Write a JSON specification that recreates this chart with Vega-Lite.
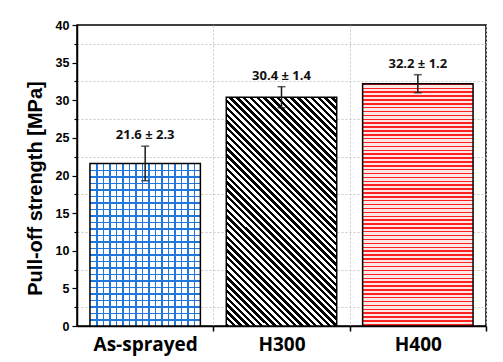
{
"$schema": "https://vega.github.io/schema/vega-lite/v6.json",
"width": 409, "height": 301,
"autosize": "none",
"padding": {"left": 77, "top": 25, "right": 17, "bottom": 36},
"background": "white",
"config": {"view": {"stroke": "#000", "strokeWidth": 1.5}},
"data": {"values": [
{"sample": "As-sprayed", "mean": 21.6, "sd": 2.3, "lo": 19.3, "hi": 23.9, "label": "21.6 ± 2.3"},
{"sample": "H300", "mean": 30.4, "sd": 1.4, "lo": 29.0, "hi": 31.8, "label": "30.4 ± 1.4"},
{"sample": "H400", "mean": 32.2, "sd": 1.2, "lo": 31.0, "hi": 33.4, "label": "32.2 ± 1.2"}
]},
"encoding": {
"x": {"field": "sample", "type": "nominal", "title": null,
 "scale": {"domain": ["As-sprayed", "H300", "H400"], "paddingInner": 0.19, "paddingOuter": 0.095},
 "axis": {"labelAngle": 0, "domainColor": "#000", "domainWidth": 1.5, "tickColor": "#000", "tickWidth": 1.5, "tickSize": 5,
  "tickOffset": 68.17, "labelOffset": -68.17, "labelFont": "Open Sans", "labelFontWeight": "bold", "labelFontSize": 19,
  "labelColor": "#000", "labelPadding": 4, "grid": true, "gridColor": "#c8c8c8", "gridDash": [2, 2], "gridWidth": 1}},
"y": {"field": "mean", "type": "quantitative", "title": "Pull-off strength [MPa]",
 "scale": {"domain": [0, 40], "nice": false},
 "axis": {"values": [0, 2.5, 5, 7.5, 10, 12.5, 15, 17.5, 20, 22.5, 25, 27.5, 30, 32.5, 35, 37.5, 40],
  "labelExpr": "datum.value % 5 === 0 ? datum.label : ''", "labelOverlap": false, "labelFlush": false,
  "domainColor": "#000", "domainWidth": 1.5, "tickColor": "#000", "tickWidth": 1.2,
  "tickSize": {"condition": {"test": "datum.value % 5 === 0", "value": 5}, "value": 3},
  "labelFont": "Liberation Sans", "labelFontWeight": "bold", "labelFontSize": 12.5, "labelColor": "#000", "labelPadding": 3,
  "grid": true, "gridColor": "#c8c8c8", "gridDash": [2, 2], "gridWidth": 1,
  "gridOpacity": {"condition": {"test": "datum.value % 5 === 0", "value": 0}, "value": 1},
  "titleFont": "Liberation Sans", "titleFontWeight": "bold", "titleFontSize": 20, "titleColor": "#000",
  "titleX": -36, "titleY": 163, "titleBaseline": "alphabetic"}}
},
"layer": [
{"transform": [{"filter": "datum.sample === 'As-sprayed'"}],
 "mark": {"type": "bar", "strokeWidth": 0, "fill": {"gradient": "linear", "x1": 0, "y1": 0, "x2": 1, "y2": 0, "stops": [
{"offset":0,"color":"#fff"},
{"offset":0.0588,"color":"#fff"},{"offset":0.0588,"color":"#27d"},{"offset":0.0698,"color":"#27d"},{"offset":0.0698,"color":"#fff"},
{"offset":0.1176,"color":"#fff"},{"offset":0.1176,"color":"#27d"},{"offset":0.1286,"color":"#27d"},{"offset":0.1286,"color":"#fff"},
{"offset":0.1765,"color":"#fff"},{"offset":0.1765,"color":"#27d"},{"offset":0.1875,"color":"#27d"},{"offset":0.1875,"color":"#fff"},
{"offset":0.2353,"color":"#fff"},{"offset":0.2353,"color":"#27d"},{"offset":0.2463,"color":"#27d"},{"offset":0.2463,"color":"#fff"},
{"offset":0.2941,"color":"#fff"},{"offset":0.2941,"color":"#27d"},{"offset":0.3051,"color":"#27d"},{"offset":0.3051,"color":"#fff"},
{"offset":0.3529,"color":"#fff"},{"offset":0.3529,"color":"#27d"},{"offset":0.3639,"color":"#27d"},{"offset":0.3639,"color":"#fff"},
{"offset":0.4118,"color":"#fff"},{"offset":0.4118,"color":"#27d"},{"offset":0.4228,"color":"#27d"},{"offset":0.4228,"color":"#fff"},
{"offset":0.4706,"color":"#fff"},{"offset":0.4706,"color":"#27d"},{"offset":0.4816,"color":"#27d"},{"offset":0.4816,"color":"#fff"},
{"offset":0.5294,"color":"#fff"},{"offset":0.5294,"color":"#27d"},{"offset":0.5404,"color":"#27d"},{"offset":0.5404,"color":"#fff"},
{"offset":0.5882,"color":"#fff"},{"offset":0.5882,"color":"#27d"},{"offset":0.5992,"color":"#27d"},{"offset":0.5992,"color":"#fff"},
{"offset":0.6471,"color":"#fff"},{"offset":0.6471,"color":"#27d"},{"offset":0.6581,"color":"#27d"},{"offset":0.6581,"color":"#fff"},
{"offset":0.7059,"color":"#fff"},{"offset":0.7059,"color":"#27d"},{"offset":0.7169,"color":"#27d"},{"offset":0.7169,"color":"#fff"},
{"offset":0.7647,"color":"#fff"},{"offset":0.7647,"color":"#27d"},{"offset":0.7757,"color":"#27d"},{"offset":0.7757,"color":"#fff"},
{"offset":0.8235,"color":"#fff"},{"offset":0.8235,"color":"#27d"},{"offset":0.8345,"color":"#27d"},{"offset":0.8345,"color":"#fff"},
{"offset":0.8824,"color":"#fff"},{"offset":0.8824,"color":"#27d"},{"offset":0.8934,"color":"#27d"},{"offset":0.8934,"color":"#fff"},
{"offset":0.9412,"color":"#fff"},{"offset":0.9412,"color":"#27d"},{"offset":0.9522,"color":"#27d"},{"offset":0.9522,"color":"#fff"},
{"offset":1,"color":"#fff"}]}},
 "encoding": {}},
{"transform": [{"filter": "datum.sample === 'As-sprayed'"}],
 "mark": {"type": "bar", "stroke": "#000", "strokeWidth": 1.5, "fill": {"gradient": "linear", "x1": 0, "y1": 0, "x2": 0, "y2": 1, "stops": [
{"offset":0,"color":"rgba(255,255,255,0)"},
{"offset":0.04,"color":"rgba(255,255,255,0)"},{"offset":0.04,"color":"#27d"},{"offset":0.0474,"color":"#27d"},{"offset":0.0474,"color":"rgba(255,255,255,0)"},
{"offset":0.08,"color":"rgba(255,255,255,0)"},{"offset":0.08,"color":"#27d"},{"offset":0.0874,"color":"#27d"},{"offset":0.0874,"color":"rgba(255,255,255,0)"},
{"offset":0.12,"color":"rgba(255,255,255,0)"},{"offset":0.12,"color":"#27d"},{"offset":0.1274,"color":"#27d"},{"offset":0.1274,"color":"rgba(255,255,255,0)"},
{"offset":0.16,"color":"rgba(255,255,255,0)"},{"offset":0.16,"color":"#27d"},{"offset":0.1674,"color":"#27d"},{"offset":0.1674,"color":"rgba(255,255,255,0)"},
{"offset":0.2,"color":"rgba(255,255,255,0)"},{"offset":0.2,"color":"#27d"},{"offset":0.2074,"color":"#27d"},{"offset":0.2074,"color":"rgba(255,255,255,0)"},
{"offset":0.24,"color":"rgba(255,255,255,0)"},{"offset":0.24,"color":"#27d"},{"offset":0.2474,"color":"#27d"},{"offset":0.2474,"color":"rgba(255,255,255,0)"},
{"offset":0.28,"color":"rgba(255,255,255,0)"},{"offset":0.28,"color":"#27d"},{"offset":0.2874,"color":"#27d"},{"offset":0.2874,"color":"rgba(255,255,255,0)"},
{"offset":0.32,"color":"rgba(255,255,255,0)"},{"offset":0.32,"color":"#27d"},{"offset":0.3274,"color":"#27d"},{"offset":0.3274,"color":"rgba(255,255,255,0)"},
{"offset":0.36,"color":"rgba(255,255,255,0)"},{"offset":0.36,"color":"#27d"},{"offset":0.3674,"color":"#27d"},{"offset":0.3674,"color":"rgba(255,255,255,0)"},
{"offset":0.4,"color":"rgba(255,255,255,0)"},{"offset":0.4,"color":"#27d"},{"offset":0.4074,"color":"#27d"},{"offset":0.4074,"color":"rgba(255,255,255,0)"},
{"offset":0.44,"color":"rgba(255,255,255,0)"},{"offset":0.44,"color":"#27d"},{"offset":0.4474,"color":"#27d"},{"offset":0.4474,"color":"rgba(255,255,255,0)"},
{"offset":0.48,"color":"rgba(255,255,255,0)"},{"offset":0.48,"color":"#27d"},{"offset":0.4874,"color":"#27d"},{"offset":0.4874,"color":"rgba(255,255,255,0)"},
{"offset":0.52,"color":"rgba(255,255,255,0)"},{"offset":0.52,"color":"#27d"},{"offset":0.5274,"color":"#27d"},{"offset":0.5274,"color":"rgba(255,255,255,0)"},
{"offset":0.56,"color":"rgba(255,255,255,0)"},{"offset":0.56,"color":"#27d"},{"offset":0.5674,"color":"#27d"},{"offset":0.5674,"color":"rgba(255,255,255,0)"},
{"offset":0.6,"color":"rgba(255,255,255,0)"},{"offset":0.6,"color":"#27d"},{"offset":0.6074,"color":"#27d"},{"offset":0.6074,"color":"rgba(255,255,255,0)"},
{"offset":0.64,"color":"rgba(255,255,255,0)"},{"offset":0.64,"color":"#27d"},{"offset":0.6474,"color":"#27d"},{"offset":0.6474,"color":"rgba(255,255,255,0)"},
{"offset":0.68,"color":"rgba(255,255,255,0)"},{"offset":0.68,"color":"#27d"},{"offset":0.6874,"color":"#27d"},{"offset":0.6874,"color":"rgba(255,255,255,0)"},
{"offset":0.72,"color":"rgba(255,255,255,0)"},{"offset":0.72,"color":"#27d"},{"offset":0.7274,"color":"#27d"},{"offset":0.7274,"color":"rgba(255,255,255,0)"},
{"offset":0.76,"color":"rgba(255,255,255,0)"},{"offset":0.76,"color":"#27d"},{"offset":0.7674,"color":"#27d"},{"offset":0.7674,"color":"rgba(255,255,255,0)"},
{"offset":0.8,"color":"rgba(255,255,255,0)"},{"offset":0.8,"color":"#27d"},{"offset":0.8074,"color":"#27d"},{"offset":0.8074,"color":"rgba(255,255,255,0)"},
{"offset":0.84,"color":"rgba(255,255,255,0)"},{"offset":0.84,"color":"#27d"},{"offset":0.8474,"color":"#27d"},{"offset":0.8474,"color":"rgba(255,255,255,0)"},
{"offset":0.88,"color":"rgba(255,255,255,0)"},{"offset":0.88,"color":"#27d"},{"offset":0.8874,"color":"#27d"},{"offset":0.8874,"color":"rgba(255,255,255,0)"},
{"offset":0.92,"color":"rgba(255,255,255,0)"},{"offset":0.92,"color":"#27d"},{"offset":0.9274,"color":"#27d"},{"offset":0.9274,"color":"rgba(255,255,255,0)"},
{"offset":0.96,"color":"rgba(255,255,255,0)"},{"offset":0.96,"color":"#27d"},{"offset":0.9674,"color":"#27d"},{"offset":0.9674,"color":"rgba(255,255,255,0)"},
{"offset":1,"color":"rgba(255,255,255,0)"}]}},
 "encoding": {}},
{"transform": [{"filter": "datum.sample === 'H300'"}],
 "mark": {"type": "bar", "stroke": "#000", "strokeWidth": 1.5, "fill": {"gradient": "linear", "x1": 0, "y1": 1, "x2": 0.5803, "y2": -0.2026, "stops": [
{"offset":0,"color":"#000"},{"offset":0.01,"color":"#000"},{"offset":0.01,"color":"#fff"},{"offset":0.02,"color":"#fff"},
{"offset":0.02,"color":"#000"},{"offset":0.03,"color":"#000"},{"offset":0.03,"color":"#fff"},{"offset":0.04,"color":"#fff"},
{"offset":0.04,"color":"#000"},{"offset":0.05,"color":"#000"},{"offset":0.05,"color":"#fff"},{"offset":0.06,"color":"#fff"},
{"offset":0.06,"color":"#000"},{"offset":0.07,"color":"#000"},{"offset":0.07,"color":"#fff"},{"offset":0.08,"color":"#fff"},
{"offset":0.08,"color":"#000"},{"offset":0.09,"color":"#000"},{"offset":0.09,"color":"#fff"},{"offset":0.1,"color":"#fff"},
{"offset":0.1,"color":"#000"},{"offset":0.11,"color":"#000"},{"offset":0.11,"color":"#fff"},{"offset":0.12,"color":"#fff"},
{"offset":0.12,"color":"#000"},{"offset":0.13,"color":"#000"},{"offset":0.13,"color":"#fff"},{"offset":0.14,"color":"#fff"},
{"offset":0.14,"color":"#000"},{"offset":0.15,"color":"#000"},{"offset":0.15,"color":"#fff"},{"offset":0.16,"color":"#fff"},
{"offset":0.16,"color":"#000"},{"offset":0.17,"color":"#000"},{"offset":0.17,"color":"#fff"},{"offset":0.18,"color":"#fff"},
{"offset":0.18,"color":"#000"},{"offset":0.19,"color":"#000"},{"offset":0.19,"color":"#fff"},{"offset":0.2,"color":"#fff"},
{"offset":0.2,"color":"#000"},{"offset":0.21,"color":"#000"},{"offset":0.21,"color":"#fff"},{"offset":0.22,"color":"#fff"},
{"offset":0.22,"color":"#000"},{"offset":0.23,"color":"#000"},{"offset":0.23,"color":"#fff"},{"offset":0.24,"color":"#fff"},
{"offset":0.24,"color":"#000"},{"offset":0.25,"color":"#000"},{"offset":0.25,"color":"#fff"},{"offset":0.26,"color":"#fff"},
{"offset":0.26,"color":"#000"},{"offset":0.27,"color":"#000"},{"offset":0.27,"color":"#fff"},{"offset":0.28,"color":"#fff"},
{"offset":0.28,"color":"#000"},{"offset":0.29,"color":"#000"},{"offset":0.29,"color":"#fff"},{"offset":0.3,"color":"#fff"},
{"offset":0.3,"color":"#000"},{"offset":0.31,"color":"#000"},{"offset":0.31,"color":"#fff"},{"offset":0.32,"color":"#fff"},
{"offset":0.32,"color":"#000"},{"offset":0.33,"color":"#000"},{"offset":0.33,"color":"#fff"},{"offset":0.34,"color":"#fff"},
{"offset":0.34,"color":"#000"},{"offset":0.35,"color":"#000"},{"offset":0.35,"color":"#fff"},{"offset":0.36,"color":"#fff"},
{"offset":0.36,"color":"#000"},{"offset":0.37,"color":"#000"},{"offset":0.37,"color":"#fff"},{"offset":0.38,"color":"#fff"},
{"offset":0.38,"color":"#000"},{"offset":0.39,"color":"#000"},{"offset":0.39,"color":"#fff"},{"offset":0.4,"color":"#fff"},
{"offset":0.4,"color":"#000"},{"offset":0.41,"color":"#000"},{"offset":0.41,"color":"#fff"},{"offset":0.42,"color":"#fff"},
{"offset":0.42,"color":"#000"},{"offset":0.43,"color":"#000"},{"offset":0.43,"color":"#fff"},{"offset":0.44,"color":"#fff"},
{"offset":0.44,"color":"#000"},{"offset":0.45,"color":"#000"},{"offset":0.45,"color":"#fff"},{"offset":0.46,"color":"#fff"},
{"offset":0.46,"color":"#000"},{"offset":0.47,"color":"#000"},{"offset":0.47,"color":"#fff"},{"offset":0.48,"color":"#fff"},
{"offset":0.48,"color":"#000"},{"offset":0.49,"color":"#000"},{"offset":0.49,"color":"#fff"},{"offset":0.5,"color":"#fff"},
{"offset":0.5,"color":"#000"},{"offset":0.51,"color":"#000"},{"offset":0.51,"color":"#fff"},{"offset":0.52,"color":"#fff"},
{"offset":0.52,"color":"#000"},{"offset":0.53,"color":"#000"},{"offset":0.53,"color":"#fff"},{"offset":0.54,"color":"#fff"},
{"offset":0.54,"color":"#000"},{"offset":0.55,"color":"#000"},{"offset":0.55,"color":"#fff"},{"offset":0.56,"color":"#fff"},
{"offset":0.56,"color":"#000"},{"offset":0.57,"color":"#000"},{"offset":0.57,"color":"#fff"},{"offset":0.58,"color":"#fff"},
{"offset":0.58,"color":"#000"},{"offset":0.59,"color":"#000"},{"offset":0.59,"color":"#fff"},{"offset":0.6,"color":"#fff"},
{"offset":0.6,"color":"#000"},{"offset":0.61,"color":"#000"},{"offset":0.61,"color":"#fff"},{"offset":0.62,"color":"#fff"},
{"offset":0.62,"color":"#000"},{"offset":0.63,"color":"#000"},{"offset":0.63,"color":"#fff"},{"offset":0.64,"color":"#fff"},
{"offset":0.64,"color":"#000"},{"offset":0.65,"color":"#000"},{"offset":0.65,"color":"#fff"},{"offset":0.66,"color":"#fff"},
{"offset":0.66,"color":"#000"},{"offset":0.67,"color":"#000"},{"offset":0.67,"color":"#fff"},{"offset":0.68,"color":"#fff"},
{"offset":0.68,"color":"#000"},{"offset":0.69,"color":"#000"},{"offset":0.69,"color":"#fff"},{"offset":0.7,"color":"#fff"},
{"offset":0.7,"color":"#000"},{"offset":0.71,"color":"#000"},{"offset":0.71,"color":"#fff"},{"offset":0.72,"color":"#fff"},
{"offset":0.72,"color":"#000"},{"offset":0.73,"color":"#000"},{"offset":0.73,"color":"#fff"},{"offset":0.74,"color":"#fff"},
{"offset":0.74,"color":"#000"},{"offset":0.75,"color":"#000"},{"offset":0.75,"color":"#fff"},{"offset":0.76,"color":"#fff"},
{"offset":0.76,"color":"#000"},{"offset":0.77,"color":"#000"},{"offset":0.77,"color":"#fff"},{"offset":0.78,"color":"#fff"},
{"offset":0.78,"color":"#000"},{"offset":0.79,"color":"#000"},{"offset":0.79,"color":"#fff"},{"offset":0.8,"color":"#fff"},
{"offset":0.8,"color":"#000"},{"offset":0.81,"color":"#000"},{"offset":0.81,"color":"#fff"},{"offset":0.82,"color":"#fff"},
{"offset":0.82,"color":"#000"},{"offset":0.83,"color":"#000"},{"offset":0.83,"color":"#fff"},{"offset":0.84,"color":"#fff"},
{"offset":0.84,"color":"#000"},{"offset":0.85,"color":"#000"},{"offset":0.85,"color":"#fff"},{"offset":0.86,"color":"#fff"},
{"offset":0.86,"color":"#000"},{"offset":0.87,"color":"#000"},{"offset":0.87,"color":"#fff"},{"offset":0.88,"color":"#fff"},
{"offset":0.88,"color":"#000"},{"offset":0.89,"color":"#000"},{"offset":0.89,"color":"#fff"},{"offset":0.9,"color":"#fff"},
{"offset":0.9,"color":"#000"},{"offset":0.91,"color":"#000"},{"offset":0.91,"color":"#fff"},{"offset":0.92,"color":"#fff"},
{"offset":0.92,"color":"#000"},{"offset":0.93,"color":"#000"},{"offset":0.93,"color":"#fff"},{"offset":0.94,"color":"#fff"},
{"offset":0.94,"color":"#000"},{"offset":0.95,"color":"#000"},{"offset":0.95,"color":"#fff"},{"offset":0.96,"color":"#fff"},
{"offset":0.96,"color":"#000"},{"offset":0.97,"color":"#000"},{"offset":0.97,"color":"#fff"},{"offset":0.98,"color":"#fff"},
{"offset":0.98,"color":"#000"},{"offset":0.99,"color":"#000"},{"offset":0.99,"color":"#fff"},{"offset":1,"color":"#fff"}]}},
 "encoding": {}},
{"transform": [{"filter": "datum.sample === 'H400'"}],
 "mark": {"type": "bar", "stroke": "#000", "strokeWidth": 1.5, "fill": {"gradient": "linear", "x1": 0, "y1": 0, "x2": 0, "y2": 1, "stops": [
{"offset":0,"color":"#f22"},{"offset":0.006,"color":"#f22"},{"offset":0.006,"color":"#fde6e6"},{"offset":0.016,"color":"#fde6e6"},
{"offset":0.016,"color":"#f22"},{"offset":0.022,"color":"#f22"},{"offset":0.022,"color":"#fde6e6"},{"offset":0.032,"color":"#fde6e6"},
{"offset":0.032,"color":"#f22"},{"offset":0.038,"color":"#f22"},{"offset":0.038,"color":"#fde6e6"},{"offset":0.048,"color":"#fde6e6"},
{"offset":0.048,"color":"#f22"},{"offset":0.054,"color":"#f22"},{"offset":0.054,"color":"#fde6e6"},{"offset":0.064,"color":"#fde6e6"},
{"offset":0.064,"color":"#f22"},{"offset":0.07,"color":"#f22"},{"offset":0.07,"color":"#fde6e6"},{"offset":0.08,"color":"#fde6e6"},
{"offset":0.08,"color":"#f22"},{"offset":0.086,"color":"#f22"},{"offset":0.086,"color":"#fde6e6"},{"offset":0.096,"color":"#fde6e6"},
{"offset":0.096,"color":"#f22"},{"offset":0.102,"color":"#f22"},{"offset":0.102,"color":"#fde6e6"},{"offset":0.112,"color":"#fde6e6"},
{"offset":0.112,"color":"#f22"},{"offset":0.118,"color":"#f22"},{"offset":0.118,"color":"#fde6e6"},{"offset":0.128,"color":"#fde6e6"},
{"offset":0.128,"color":"#f22"},{"offset":0.134,"color":"#f22"},{"offset":0.134,"color":"#fde6e6"},{"offset":0.144,"color":"#fde6e6"},
{"offset":0.144,"color":"#f22"},{"offset":0.15,"color":"#f22"},{"offset":0.15,"color":"#fde6e6"},{"offset":0.16,"color":"#fde6e6"},
{"offset":0.16,"color":"#f22"},{"offset":0.166,"color":"#f22"},{"offset":0.166,"color":"#fde6e6"},{"offset":0.176,"color":"#fde6e6"},
{"offset":0.176,"color":"#f22"},{"offset":0.182,"color":"#f22"},{"offset":0.182,"color":"#fde6e6"},{"offset":0.192,"color":"#fde6e6"},
{"offset":0.192,"color":"#f22"},{"offset":0.198,"color":"#f22"},{"offset":0.198,"color":"#fde6e6"},{"offset":0.208,"color":"#fde6e6"},
{"offset":0.208,"color":"#f22"},{"offset":0.214,"color":"#f22"},{"offset":0.214,"color":"#fde6e6"},{"offset":0.224,"color":"#fde6e6"},
{"offset":0.224,"color":"#f22"},{"offset":0.23,"color":"#f22"},{"offset":0.23,"color":"#fde6e6"},{"offset":0.24,"color":"#fde6e6"},
{"offset":0.24,"color":"#f22"},{"offset":0.246,"color":"#f22"},{"offset":0.246,"color":"#fde6e6"},{"offset":0.256,"color":"#fde6e6"},
{"offset":0.256,"color":"#f22"},{"offset":0.262,"color":"#f22"},{"offset":0.262,"color":"#fde6e6"},{"offset":0.272,"color":"#fde6e6"},
{"offset":0.272,"color":"#f22"},{"offset":0.278,"color":"#f22"},{"offset":0.278,"color":"#fde6e6"},{"offset":0.288,"color":"#fde6e6"},
{"offset":0.288,"color":"#f22"},{"offset":0.294,"color":"#f22"},{"offset":0.294,"color":"#fde6e6"},{"offset":0.304,"color":"#fde6e6"},
{"offset":0.304,"color":"#f22"},{"offset":0.31,"color":"#f22"},{"offset":0.31,"color":"#fde6e6"},{"offset":0.32,"color":"#fde6e6"},
{"offset":0.32,"color":"#f22"},{"offset":0.326,"color":"#f22"},{"offset":0.326,"color":"#fde6e6"},{"offset":0.336,"color":"#fde6e6"},
{"offset":0.336,"color":"#f22"},{"offset":0.342,"color":"#f22"},{"offset":0.342,"color":"#fde6e6"},{"offset":0.352,"color":"#fde6e6"},
{"offset":0.352,"color":"#f22"},{"offset":0.358,"color":"#f22"},{"offset":0.358,"color":"#fde6e6"},{"offset":0.368,"color":"#fde6e6"},
{"offset":0.368,"color":"#f22"},{"offset":0.374,"color":"#f22"},{"offset":0.374,"color":"#fde6e6"},{"offset":0.384,"color":"#fde6e6"},
{"offset":0.384,"color":"#f22"},{"offset":0.39,"color":"#f22"},{"offset":0.39,"color":"#fde6e6"},{"offset":0.4,"color":"#fde6e6"},
{"offset":0.4,"color":"#f22"},{"offset":0.406,"color":"#f22"},{"offset":0.406,"color":"#fde6e6"},{"offset":0.416,"color":"#fde6e6"},
{"offset":0.416,"color":"#f22"},{"offset":0.422,"color":"#f22"},{"offset":0.422,"color":"#fde6e6"},{"offset":0.432,"color":"#fde6e6"},
{"offset":0.432,"color":"#f22"},{"offset":0.438,"color":"#f22"},{"offset":0.438,"color":"#fde6e6"},{"offset":0.448,"color":"#fde6e6"},
{"offset":0.448,"color":"#f22"},{"offset":0.454,"color":"#f22"},{"offset":0.454,"color":"#fde6e6"},{"offset":0.464,"color":"#fde6e6"},
{"offset":0.464,"color":"#f22"},{"offset":0.47,"color":"#f22"},{"offset":0.47,"color":"#fde6e6"},{"offset":0.48,"color":"#fde6e6"},
{"offset":0.48,"color":"#f22"},{"offset":0.486,"color":"#f22"},{"offset":0.486,"color":"#fde6e6"},{"offset":0.496,"color":"#fde6e6"},
{"offset":0.496,"color":"#f22"},{"offset":0.502,"color":"#f22"},{"offset":0.502,"color":"#fde6e6"},{"offset":0.512,"color":"#fde6e6"},
{"offset":0.512,"color":"#f22"},{"offset":0.518,"color":"#f22"},{"offset":0.518,"color":"#fde6e6"},{"offset":0.528,"color":"#fde6e6"},
{"offset":0.528,"color":"#f22"},{"offset":0.534,"color":"#f22"},{"offset":0.534,"color":"#fde6e6"},{"offset":0.544,"color":"#fde6e6"},
{"offset":0.544,"color":"#f22"},{"offset":0.55,"color":"#f22"},{"offset":0.55,"color":"#fde6e6"},{"offset":0.56,"color":"#fde6e6"},
{"offset":0.56,"color":"#f22"},{"offset":0.566,"color":"#f22"},{"offset":0.566,"color":"#fde6e6"},{"offset":0.576,"color":"#fde6e6"},
{"offset":0.576,"color":"#f22"},{"offset":0.582,"color":"#f22"},{"offset":0.582,"color":"#fde6e6"},{"offset":0.592,"color":"#fde6e6"},
{"offset":0.592,"color":"#f22"},{"offset":0.598,"color":"#f22"},{"offset":0.598,"color":"#fde6e6"},{"offset":0.608,"color":"#fde6e6"},
{"offset":0.608,"color":"#f22"},{"offset":0.614,"color":"#f22"},{"offset":0.614,"color":"#fde6e6"},{"offset":0.624,"color":"#fde6e6"},
{"offset":0.624,"color":"#f22"},{"offset":0.63,"color":"#f22"},{"offset":0.63,"color":"#fde6e6"},{"offset":0.64,"color":"#fde6e6"},
{"offset":0.64,"color":"#f22"},{"offset":0.646,"color":"#f22"},{"offset":0.646,"color":"#fde6e6"},{"offset":0.656,"color":"#fde6e6"},
{"offset":0.656,"color":"#f22"},{"offset":0.662,"color":"#f22"},{"offset":0.662,"color":"#fde6e6"},{"offset":0.672,"color":"#fde6e6"},
{"offset":0.672,"color":"#f22"},{"offset":0.678,"color":"#f22"},{"offset":0.678,"color":"#fde6e6"},{"offset":0.688,"color":"#fde6e6"},
{"offset":0.688,"color":"#f22"},{"offset":0.694,"color":"#f22"},{"offset":0.694,"color":"#fde6e6"},{"offset":0.704,"color":"#fde6e6"},
{"offset":0.704,"color":"#f22"},{"offset":0.71,"color":"#f22"},{"offset":0.71,"color":"#fde6e6"},{"offset":0.72,"color":"#fde6e6"},
{"offset":0.72,"color":"#f22"},{"offset":0.726,"color":"#f22"},{"offset":0.726,"color":"#fde6e6"},{"offset":0.736,"color":"#fde6e6"},
{"offset":0.736,"color":"#f22"},{"offset":0.742,"color":"#f22"},{"offset":0.742,"color":"#fde6e6"},{"offset":0.752,"color":"#fde6e6"},
{"offset":0.752,"color":"#f22"},{"offset":0.758,"color":"#f22"},{"offset":0.758,"color":"#fde6e6"},{"offset":0.768,"color":"#fde6e6"},
{"offset":0.768,"color":"#f22"},{"offset":0.774,"color":"#f22"},{"offset":0.774,"color":"#fde6e6"},{"offset":0.784,"color":"#fde6e6"},
{"offset":0.784,"color":"#f22"},{"offset":0.79,"color":"#f22"},{"offset":0.79,"color":"#fde6e6"},{"offset":0.8,"color":"#fde6e6"},
{"offset":0.8,"color":"#f22"},{"offset":0.806,"color":"#f22"},{"offset":0.806,"color":"#fde6e6"},{"offset":0.816,"color":"#fde6e6"},
{"offset":0.816,"color":"#f22"},{"offset":0.822,"color":"#f22"},{"offset":0.822,"color":"#fde6e6"},{"offset":0.832,"color":"#fde6e6"},
{"offset":0.832,"color":"#f22"},{"offset":0.838,"color":"#f22"},{"offset":0.838,"color":"#fde6e6"},{"offset":0.848,"color":"#fde6e6"},
{"offset":0.848,"color":"#f22"},{"offset":0.854,"color":"#f22"},{"offset":0.854,"color":"#fde6e6"},{"offset":0.864,"color":"#fde6e6"},
{"offset":0.864,"color":"#f22"},{"offset":0.87,"color":"#f22"},{"offset":0.87,"color":"#fde6e6"},{"offset":0.88,"color":"#fde6e6"},
{"offset":0.88,"color":"#f22"},{"offset":0.886,"color":"#f22"},{"offset":0.886,"color":"#fde6e6"},{"offset":0.896,"color":"#fde6e6"},
{"offset":0.896,"color":"#f22"},{"offset":0.902,"color":"#f22"},{"offset":0.902,"color":"#fde6e6"},{"offset":0.912,"color":"#fde6e6"},
{"offset":0.912,"color":"#f22"},{"offset":0.918,"color":"#f22"},{"offset":0.918,"color":"#fde6e6"},{"offset":0.928,"color":"#fde6e6"},
{"offset":0.928,"color":"#f22"},{"offset":0.934,"color":"#f22"},{"offset":0.934,"color":"#fde6e6"},{"offset":0.944,"color":"#fde6e6"},
{"offset":0.944,"color":"#f22"},{"offset":0.95,"color":"#f22"},{"offset":0.95,"color":"#fde6e6"},{"offset":0.96,"color":"#fde6e6"},
{"offset":0.96,"color":"#f22"},{"offset":0.966,"color":"#f22"},{"offset":0.966,"color":"#fde6e6"},{"offset":0.976,"color":"#fde6e6"},
{"offset":0.976,"color":"#f22"},{"offset":0.982,"color":"#f22"},{"offset":0.982,"color":"#fde6e6"},{"offset":0.992,"color":"#fde6e6"},
{"offset":0.992,"color":"#f22"},{"offset":0.998,"color":"#f22"},{"offset":0.998,"color":"#fde6e6"},{"offset":1,"color":"#fde6e6"}]}},
 "encoding": {}},
{"mark": {"type": "rule", "stroke": "#1a1a1a", "strokeWidth": 1.5},
 "encoding": {"y": {"field": "lo", "type": "quantitative", "title": "Pull-off strength [MPa]", "scale": {"domain": [0, 40], "nice": false}}, "y2": {"field": "hi"}}},
{"mark": {"type": "tick", "color": "#1a1a1a", "size": 8, "thickness": 1.5},
 "encoding": {"y": {"field": "lo", "type": "quantitative", "title": "Pull-off strength [MPa]", "scale": {"domain": [0, 40], "nice": false}}}},
{"mark": {"type": "tick", "color": "#1a1a1a", "size": 8, "thickness": 1.5},
 "encoding": {"y": {"field": "hi", "type": "quantitative", "title": "Pull-off strength [MPa]", "scale": {"domain": [0, 40], "nice": false}}}},
{"mark": {"type": "text", "font": "Open Sans", "fontWeight": "bold", "fontSize": 13, "fill": "#111", "baseline": "alphabetic", "dy": -7},
 "encoding": {"y": {"field": "hi", "type": "quantitative", "title": "Pull-off strength [MPa]", "scale": {"domain": [0, 40], "nice": false}}, "text": {"field": "label"}}}
]
}
